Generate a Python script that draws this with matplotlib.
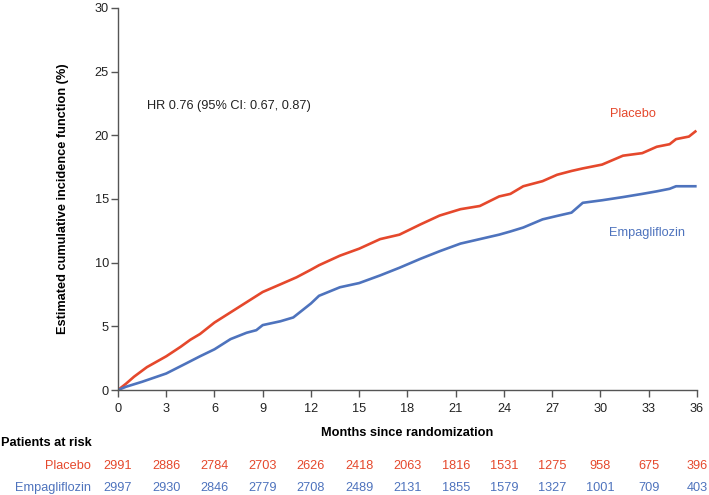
import matplotlib.pyplot as plt
import matplotlib.transforms as mtransforms

plt.rcParams['font.family'] = ['Liberation Sans', 'DejaVu Sans']

# curve values (months, cumulative incidence %)
placebo_months = [0, 0.5, 1.0, 1.8, 3, 3.9, 4.5, 5.1, 6, 7, 8, 9, 10.1, 11.1, 12, 12.5,
                  13.8, 15, 16.3, 17.5, 18.8, 20, 21.3, 22.5, 23.7, 24.4, 25.2, 26.4,
                  27.3, 28.2, 28.9, 30.1, 31.4, 32.6, 33.5, 34.3, 34.7, 35.5, 35.9]
placebo_cif = [0, 0.5, 1.05, 1.8, 2.65, 3.4, 3.95, 4.4, 5.3, 6.1, 6.9, 7.7, 8.3, 8.85, 9.45,
               9.8, 10.55, 11.1, 11.85, 12.2, 13.0, 13.7, 14.2, 14.45, 15.2, 15.4, 16.0,
               16.4, 16.9, 17.2, 17.4, 17.7, 18.4, 18.6, 19.1, 19.3, 19.7, 19.9, 20.3]

empa_months = [0, 0.5, 1.5, 3, 4.25, 5.1, 6, 7, 8, 8.6, 9, 10.1, 10.9, 12, 12.5, 13.8, 15,
               16.3, 17.5, 18.8, 20, 21.3, 22.5, 23.7, 24.4, 25.2, 26.4, 27.3, 28.2, 28.9,
               30.1, 31.4, 32.6, 33.5, 34.3, 34.7, 35.9]
empa_cif = [0, 0.26, 0.65, 1.3, 2.1, 2.65, 3.2, 4.0, 4.5, 4.7, 5.1, 5.4, 5.7, 6.8, 7.4, 8.07,
            8.4, 9.0, 9.6, 10.3, 10.9, 11.5, 11.85, 12.2, 12.45, 12.76, 13.4, 13.67, 13.93,
            14.7, 14.9, 15.15, 15.4, 15.6, 15.8, 16.0, 16.0]

risk_months = [0, 3, 6, 9, 12, 15, 18, 21, 24, 27, 30, 33, 36]
placebo_risk = [2991, 2886, 2784, 2703, 2626, 2418, 2063, 1816, 1531, 1275, 958, 675, 396]
empa_risk = [2997, 2930, 2846, 2779, 2708, 2489, 2131, 1855, 1579, 1327, 1001, 709, 403]

RED = '#E5482C'
BLUE = '#4E73BD'
AXC = '#555555'
FS = 9.2

fig = plt.figure(figsize=(7.09, 4.95), dpi=100)
ax = fig.add_axes([0.1664, 0.212, 0.8166, 0.772])

ax.plot(placebo_months, placebo_cif, color=RED, lw=1.9)
ax.plot(empa_months, empa_cif, color=BLUE, lw=1.9)

ax.set_xlim(0, 36)
ax.set_ylim(0, 30)
ax.set_xticks(risk_months)
ax.set_yticks(range(0, 31, 5))
for s in ['top', 'right']:
    ax.spines[s].set_visible(False)
for s in ['left', 'bottom']:
    ax.spines[s].set_color(AXC)
    ax.spines[s].set_linewidth(1.0)
ax.tick_params(colors=AXC, labelcolor='#222222', labelsize=FS, length=5, width=1.0)
ax.tick_params(axis='y', pad=1.5)
ax.tick_params(axis='x', pad=4)

ax.set_ylabel('Estimated cumulative incidence function (%)', fontsize=FS,
              fontweight='bold')
ax.yaxis.set_label_coords(63 / 709, 0.5, transform=mtransforms.blended_transform_factory(
    fig.transFigure, ax.transAxes))
ax.set_xlabel('Months since randomization', fontsize=FS, fontweight='bold')
ax.xaxis.set_label_coords(0.5, 1 - 433 / 495, transform=mtransforms.blended_transform_factory(
    ax.transAxes, fig.transFigure))
ax.xaxis.label.set_va('center')
ax.yaxis.label.set_va('center')

ax.text(1.8, 22.3, 'HR 0.76 (95% CI: 0.67, 0.87)', fontsize=FS, color='#222222',
        va='center', ha='left')
ax.text(32.0, 21.7, 'Placebo', fontsize=FS, color=RED, ha='center', va='center')
ax.text(32.9, 12.3, 'Empagliflozin', fontsize=FS, color=BLUE, ha='center', va='center')

# patients at risk table
trans = mtransforms.blended_transform_factory(ax.transData, fig.transFigure)
fig.text(0.002, 1 - 443 / 495, 'Patients at risk', fontsize=FS, fontweight='bold',
         va='center', ha='left')
y_pl = 1 - 466 / 495
y_em = 1 - 488 / 495
fig.text(91 / 709, y_pl, 'Placebo', fontsize=FS, color=RED, ha='right', va='center')
fig.text(91 / 709, y_em, 'Empagliflozin', fontsize=FS, color=BLUE, ha='right', va='center')
for m, p, e in zip(risk_months, placebo_risk, empa_risk):
    ax.text(m, y_pl, str(p), transform=trans, fontsize=FS, color=RED,
            ha='center', va='center', clip_on=False)
    ax.text(m, y_em, str(e), transform=trans, fontsize=FS, color=BLUE,
            ha='center', va='center', clip_on=False)

fig.savefig('out.png', dpi=100)
